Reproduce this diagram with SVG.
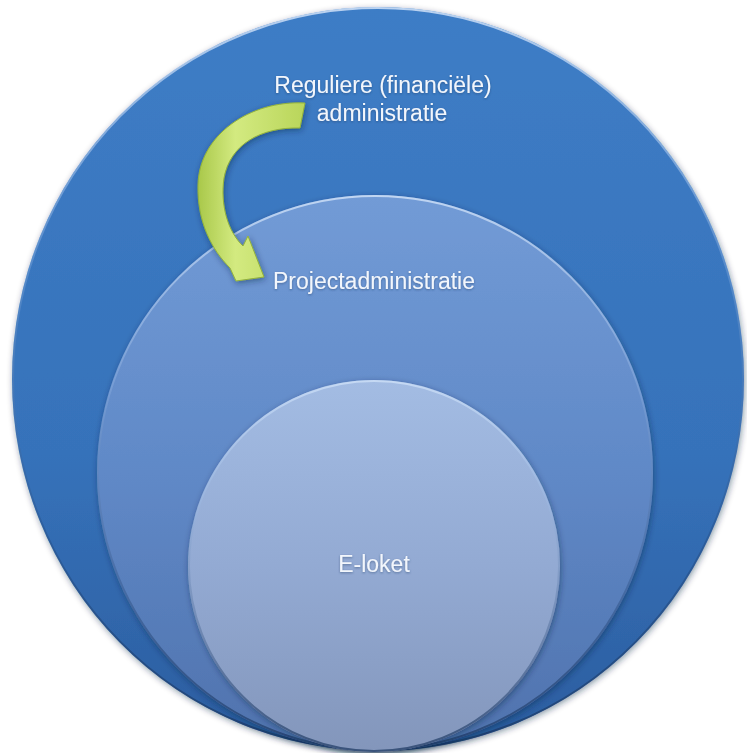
<svg xmlns="http://www.w3.org/2000/svg" width="747" height="753" viewBox="0 0 747 753">
  <style>
    .lbl { font-family: "Liberation Sans", Arial, sans-serif; font-size: 23px; fill: #f2f6fc; text-anchor: middle; }
  </style>
  <defs>
    <linearGradient id="gOuter" x1="0" y1="0" x2="0" y2="1">
      <stop offset="0" stop-color="#3e7dc6"/>
      <stop offset="0.6" stop-color="#3672ba"/>
      <stop offset="1" stop-color="#2b5d9f"/>
    </linearGradient>
    <linearGradient id="gMid" x1="0" y1="0" x2="0" y2="1">
      <stop offset="0" stop-color="#729bd6"/>
      <stop offset="0.5" stop-color="#6089c7"/>
      <stop offset="1" stop-color="#4f72ad"/>
    </linearGradient>
    <linearGradient id="gInner" x1="0" y1="0" x2="0" y2="1">
      <stop offset="0" stop-color="#a3bce3"/>
      <stop offset="0.5" stop-color="#93aad3"/>
      <stop offset="1" stop-color="#8396bb"/>
    </linearGradient>
    <linearGradient id="gEdge" x1="0" y1="0" x2="0" y2="1">
      <stop offset="0" stop-color="#c9dcf5" stop-opacity="0.9"/>
      <stop offset="0.35" stop-color="#9cbbe6" stop-opacity="0.3"/>
      <stop offset="0.7" stop-color="#1e3f6e" stop-opacity="0.3"/>
      <stop offset="1" stop-color="#1a365f" stop-opacity="0.7"/>
    </linearGradient>
    <linearGradient id="gArrow" x1="0" y1="0" x2="1" y2="0">
      <stop offset="0" stop-color="#a9c84a"/>
      <stop offset="0.35" stop-color="#d3ea80"/>
      <stop offset="1" stop-color="#b9d55a"/>
    </linearGradient>
    <filter id="shadow" x="-10%" y="-10%" width="120%" height="120%">
      <feDropShadow dx="1" dy="2" stdDeviation="3" flood-color="#0d2340" flood-opacity="0.45"/>
    </filter>
    <filter id="txtShadow" x="-10%" y="-30%" width="120%" height="160%">
      <feDropShadow dx="0" dy="1" stdDeviation="1" flood-color="#1b3a66" flood-opacity="0.5"/>
    </filter>
  </defs>

  <rect width="747" height="753" fill="#ffffff"/>

  <g id="node-outer">
    <ellipse cx="378" cy="379" rx="366" ry="372" fill="url(#gOuter)" filter="url(#shadow)"/>
    <ellipse cx="378" cy="379" rx="365" ry="371" fill="none" stroke="url(#gEdge)" stroke-width="2"/>
    <text class="lbl" x="383" y="93" filter="url(#txtShadow)">Reguliere (financiële)</text>
    <text class="lbl" x="382" y="121" filter="url(#txtShadow)">administratie</text>
  </g>

  <g id="node-middle">
    <circle cx="375" cy="473" r="278" fill="url(#gMid)" filter="url(#shadow)"/>
    <circle cx="375" cy="473" r="277" fill="none" stroke="url(#gEdge)" stroke-width="2"/>
    <text class="lbl" x="374" y="289" filter="url(#txtShadow)">Projectadministratie</text>
  </g>

  <g id="node-inner">
    <circle cx="374" cy="566" r="186" fill="url(#gInner)" filter="url(#shadow)"/>
    <circle cx="374" cy="566" r="185" fill="none" stroke="url(#gEdge)" stroke-width="2"/>
    <text class="lbl" x="374" y="572" filter="url(#txtShadow)">E-loket</text>
  </g>

  <g id="connectors">
    <path d="M 305 103 C 250 100, 199 135, 198 185 C 197 222, 212 250, 230 268 L 236 281 L 264 277 L 248 236 L 243 246 C 228 232, 220 205, 224 178 C 230 145, 260 127, 300 128 Z"
          fill="url(#gArrow)" stroke="#93b23a" stroke-width="1" stroke-linejoin="round" filter="url(#shadow)"/>
  </g>
</svg>
